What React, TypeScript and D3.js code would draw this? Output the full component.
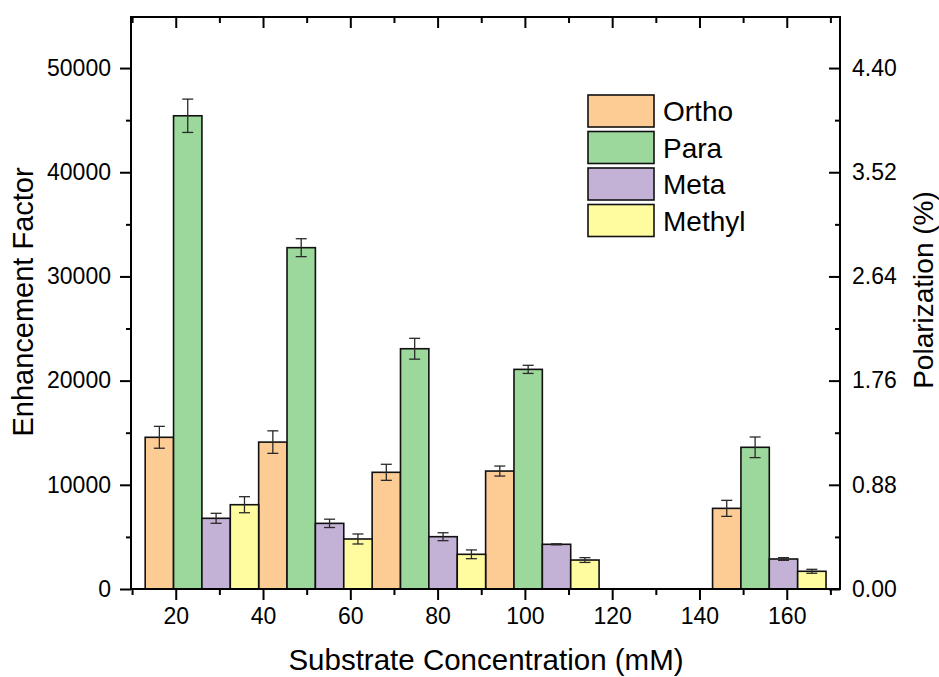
import React, { useEffect, useRef } from "react";
import * as d3 from "d3";

// series names and colours
const categories = ["Ortho", "Para", "Meta", "Methyl"];
const colors = ["#FDCB94", "#9CD79B", "#C4B2D6", "#FEFC9F"];

// where each group of bars sits on the x axis (axis units)
const groupPositions = [26, 52, 78, 104, 156];

const orthoValues = [14560, 14100, 11200, 11320, 7740];
const orthoErrors = [1050, 1080, 770, 480, 770];
const paraValues = [45420, 32760, 23060, 21080, 13600];
const paraErrors = [1600, 860, 1000, 390, 990];
const metaValues = [6785, 6300, 5020, 4290, 2880];
const metaErrors = [480, 400, 380, 50, 130];
const methylValues = [8090, 4800, 3330, 2780, 1700];
const methylErrors = [770, 480, 420, 230, 190];

const xTicks = [20, 40, 60, 80, 100, 120, 140, 160];
const xMinorTicks = [10, 30, 50, 70, 90, 110, 130, 150, 170];
const yTicks = [0, 10000, 20000, 30000, 40000, 50000];
const yMinorTicks = [5000, 15000, 25000, 35000, 45000];
const rightTicks = [0, 0.88, 1.76, 2.64, 3.52, 4.4];
const rightMinorTicks = [0.44, 1.32, 2.2, 3.08, 3.96];

const FONT = "Arial, 'Liberation Sans', sans-serif";

export default function App() {
  const svgRef = useRef<SVGSVGElement>(null);

  useEffect(() => {
    const svg = d3.select(svgRef.current);
    svg.selectAll("*").remove();

    const left = 131, right = 840, top = 17, bottom = 589;
    const barWidth = 6.5; // axis units

    const x = d3.scaleLinear().domain([9.75, 172.2]).range([left, right]);
    const y = d3.scaleLinear().domain([0, 54900]).range([bottom, top]);
    const y2 = d3.scaleLinear().domain([0, 54900 * 0.000088]).range([bottom, top]);

    const values = [orthoValues, paraValues, metaValues, methylValues];
    const errors = [orthoErrors, paraErrors, metaErrors, methylErrors];

    const bars: { s: number; x0: number; v: number; e: number }[] = [];
    categories.forEach((c, s) => {
      groupPositions.forEach((g, i) => {
        bars.push({ s, x0: g + (s - 2) * barWidth, v: values[s][i], e: errors[s][i] });
      });
    });

    const g = svg.append("g");

    g.selectAll(".bar")
      .data(bars)
      .join("rect")
      .attr("class", "bar")
      .attr("x", d => x(d.x0))
      .attr("y", d => y(d.v))
      .attr("width", d => x(d.x0 + barWidth) - x(d.x0))
      .attr("height", d => y(0) - y(d.v))
      .attr("fill", d => colors[d.s])
      .attr("stroke", "#111")
      .attr("stroke-width", 1.6);

    // error bars
    const cap = 5.5;
    const eb = g.selectAll(".err").data(bars).join("g").attr("class", "err")
      .attr("stroke", "#2a2a2a").attr("stroke-width", 1.3);
    eb.append("line")
      .attr("x1", d => x(d.x0 + barWidth / 2)).attr("x2", d => x(d.x0 + barWidth / 2))
      .attr("y1", d => y(d.v - d.e)).attr("y2", d => y(d.v + d.e));
    eb.append("line")
      .attr("x1", d => x(d.x0 + barWidth / 2) - cap).attr("x2", d => x(d.x0 + barWidth / 2) + cap)
      .attr("y1", d => y(d.v + d.e)).attr("y2", d => y(d.v + d.e));
    eb.append("line")
      .attr("x1", d => x(d.x0 + barWidth / 2) - cap).attr("x2", d => x(d.x0 + barWidth / 2) + cap)
      .attr("y1", d => y(d.v - d.e)).attr("y2", d => y(d.v - d.e));

    const styleAxis = (sel: any) => {
      sel.select(".domain").remove();
      sel.selectAll("line").attr("stroke", "#000").attr("stroke-width", 2);
      sel.selectAll("text").attr("font-family", FONT).attr("font-size", 23).attr("fill", "#000");
    };

    // bottom
    g.append("g").attr("transform", `translate(0,${bottom})`)
      .call(d3.axisBottom(x).tickValues(xTicks).tickSize(11).tickPadding(8).tickFormat(d3.format("d")))
      .call(styleAxis);
    g.append("g").attr("transform", `translate(0,${bottom})`)
      .call(d3.axisBottom(x).tickValues(xMinorTicks).tickSize(6).tickFormat(() => ""))
      .call(styleAxis);
    // top (inward)
    g.append("g").attr("transform", `translate(0,${top})`)
      .call(d3.axisBottom(x).tickValues(xTicks).tickSize(11).tickFormat(() => ""))
      .call(styleAxis);
    g.append("g").attr("transform", `translate(0,${top})`)
      .call(d3.axisBottom(x).tickValues(xMinorTicks).tickSize(6).tickFormat(() => ""))
      .call(styleAxis);
    // left
    g.append("g").attr("transform", `translate(${left},0)`)
      .call(d3.axisLeft(y).tickValues(yTicks).tickSize(11).tickPadding(9).tickFormat(d3.format("d")))
      .call(styleAxis);
    g.append("g").attr("transform", `translate(${left},0)`)
      .call(d3.axisLeft(y).tickValues(yMinorTicks).tickSize(5).tickFormat(() => ""))
      .call(styleAxis);
    // right (inward ticks)
    g.append("g").attr("transform", `translate(${right},0)`)
      .call(d3.axisRight(y2).tickValues(rightTicks).tickSize(-11).tickPadding(12).tickFormat(d3.format(".2f")))
      .call(styleAxis);
    g.append("g").attr("transform", `translate(${right},0)`)
      .call(d3.axisRight(y2).tickValues(rightMinorTicks).tickSize(-5).tickFormat(() => ""))
      .call(styleAxis);

    // frame
    g.append("rect")
      .attr("x", left).attr("y", top)
      .attr("width", right - left).attr("height", bottom - top)
      .attr("fill", "none").attr("stroke", "#000").attr("stroke-width", 2);

    // titles
    svg.append("text")
      .attr("x", 486).attr("y", 670)
      .attr("text-anchor", "middle")
      .attr("font-family", FONT).attr("font-size", 29.5)
      .text("Substrate Concentration (mM)");
    svg.append("text")
      .attr("transform", `translate(33,302) rotate(-90)`)
      .attr("text-anchor", "middle")
      .attr("font-family", FONT).attr("font-size", 29)
      .text("Enhancement Factor");
    svg.append("text")
      .attr("transform", `translate(933,290) rotate(-90)`)
      .attr("text-anchor", "middle")
      .attr("font-family", FONT).attr("font-size", 28)
      .text("Polarization (%)");

    // legend
    const legend = svg.append("g").attr("transform", "translate(588,95)");
    const item = legend.selectAll("g").data(categories).join("g")
      .attr("transform", (d, i) => `translate(0,${i * 36.5})`);
    item.append("rect")
      .attr("width", 66).attr("height", 32)
      .attr("fill", (d, i) => colors[i])
      .attr("stroke", "#111").attr("stroke-width", 1.6);
    item.append("text")
      .attr("x", 75).attr("y", 16).attr("dy", "0.36em")
      .attr("font-family", FONT).attr("font-size", 28)
      .text(d => d);
  }, []);

  return (
    <div style={{ position: "absolute", left: 0, top: 0 }}>
      <svg ref={svgRef} width={939} height={677} style={{ display: "block", background: "#fff" }} />
    </div>
  );
}
